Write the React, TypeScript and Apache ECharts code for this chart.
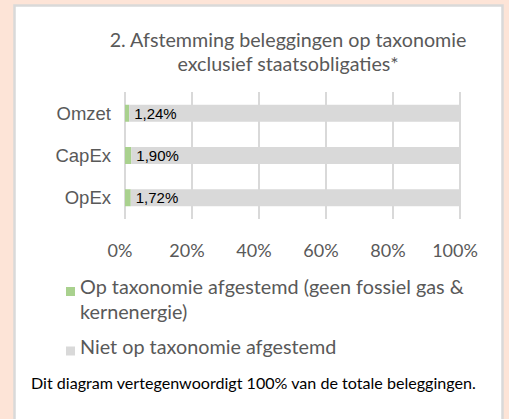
import React, { useEffect, useRef } from "react";
import * as echarts from "echarts";

const categories = ["Omzet", "CapEx", "OpEx"];
const alignedValues = [1.24, 1.9, 1.72];
const notAlignedValues = [98.76, 98.1, 98.28];
const seriesNames = [
  "Op taxonomie afgestemd (geen fossiel gas & kernenergie)",
  "Niet op taxonomie afgestemd",
];
const titleText = "2. Afstemming beleggingen op taxonomie\nexclusief staatsobligaties*";
const footerText = "Dit diagram vertegenwoordigt 100% van de totale beleggingen.";

export default function App() {
  const ref = useRef<HTMLDivElement>(null);
  useEffect(() => {
    if (!ref.current) return;
    const chart = echarts.init(ref.current, undefined, { renderer: "svg" });
    const gray = "#595959";
    const legendFont = { fontFamily: "Lato", fontSize: 19.8, color: gray, lineHeight: 25 };
    chart.setOption({
      animation: false,
      backgroundColor: "#fde4d7",
      graphic: [
        {
          type: "rect",
          z: -10,
          shape: { x: 14.5, y: 5.5, width: 488, height: 430 },
          style: { fill: "#ffffff", stroke: "#d9d9d9", lineWidth: 2.5 },
        },
        {
          type: "text",
          x: 31,
          y: 382,
          style: {
            text: footerText,
            fill: "#000000",
            font: "16.1px Lato",
            verticalAlign: "middle",
          },
        },
      ],
      title: {
        text: titleText,
        left: 288,
        top: 27,
        padding: 0,
        textAlign: "center",
        textStyle: {
          fontFamily: "Lato",
          fontSize: 19.7,
          fontWeight: "normal",
          color: gray,
          lineHeight: 24,
        },
      },
      legend: {
        orient: "vertical",
        left: 66,
        top: 260,
        padding: 0,
        itemWidth: 9,
        itemHeight: 9,
        itemGap: 10.5,
        icon: "rect",
        formatter: (name: string) =>
          name === seriesNames[0]
            ? "{a| }\n{b|Op taxonomie afgestemd (geen fossiel gas &}\n{b|kernenergie)}"
            : "{b|" + name + "}\n{c| }",
        textStyle: {
          ...legendFont,
          rich: {
            a: { fontSize: 6, lineHeight: 13 },
            b: legendFont,
            c: { fontSize: 6, lineHeight: 10 },
          },
        },
        data: [{ name: seriesNames[0] }, { name: seriesNames[1] }],
      },
      grid: { left: 125, right: 49, top: 92, bottom: 200 },
      xAxis: {
        type: "value",
        min: 0,
        max: 100,
        interval: 20,
        axisLine: { show: false },
        axisTick: { show: false },
        splitLine: { show: true, lineStyle: { color: "#d9d9d9", width: 2 } },
        axisLabel: {
          formatter: "{value}%",
          color: gray,
          fontFamily: "Lato",
          fontSize: 18,
          margin: 22,
          padding: [0, 10, 0, 0],
        },
      },
      yAxis: {
        type: "category",
        data: categories,
        inverse: true,
        axisLine: { show: false },
        axisTick: { show: false },
        axisLabel: {
          color: gray,
          fontFamily: "Liberation Sans",
          fontSize: 18.5,
          margin: 14,
        },
      },
      series: [
        {
          name: seriesNames[0],
          type: "bar",
          stack: "total",
          data: alignedValues,
          barWidth: 17,
          itemStyle: { color: "#a9d18e" },
          label: {
            show: true,
            position: "right",
            distance: 5,
            color: "#000000",
            fontFamily: "Liberation Sans",
            fontSize: 15,
            formatter: (p: any) => p.value.toFixed(2).replace(".", ",") + "%",
          },
        },
        {
          name: seriesNames[1],
          type: "bar",
          stack: "total",
          data: notAlignedValues,
          barWidth: 17,
          itemStyle: { color: "#d9d9d9" },
        },
      ],
    });
    return () => chart.dispose();
  }, []);
  return (
    <div
      ref={ref}
      style={{ position: "absolute", left: 0, top: 0, width: 509, height: 419 }}
    />
  );
}
